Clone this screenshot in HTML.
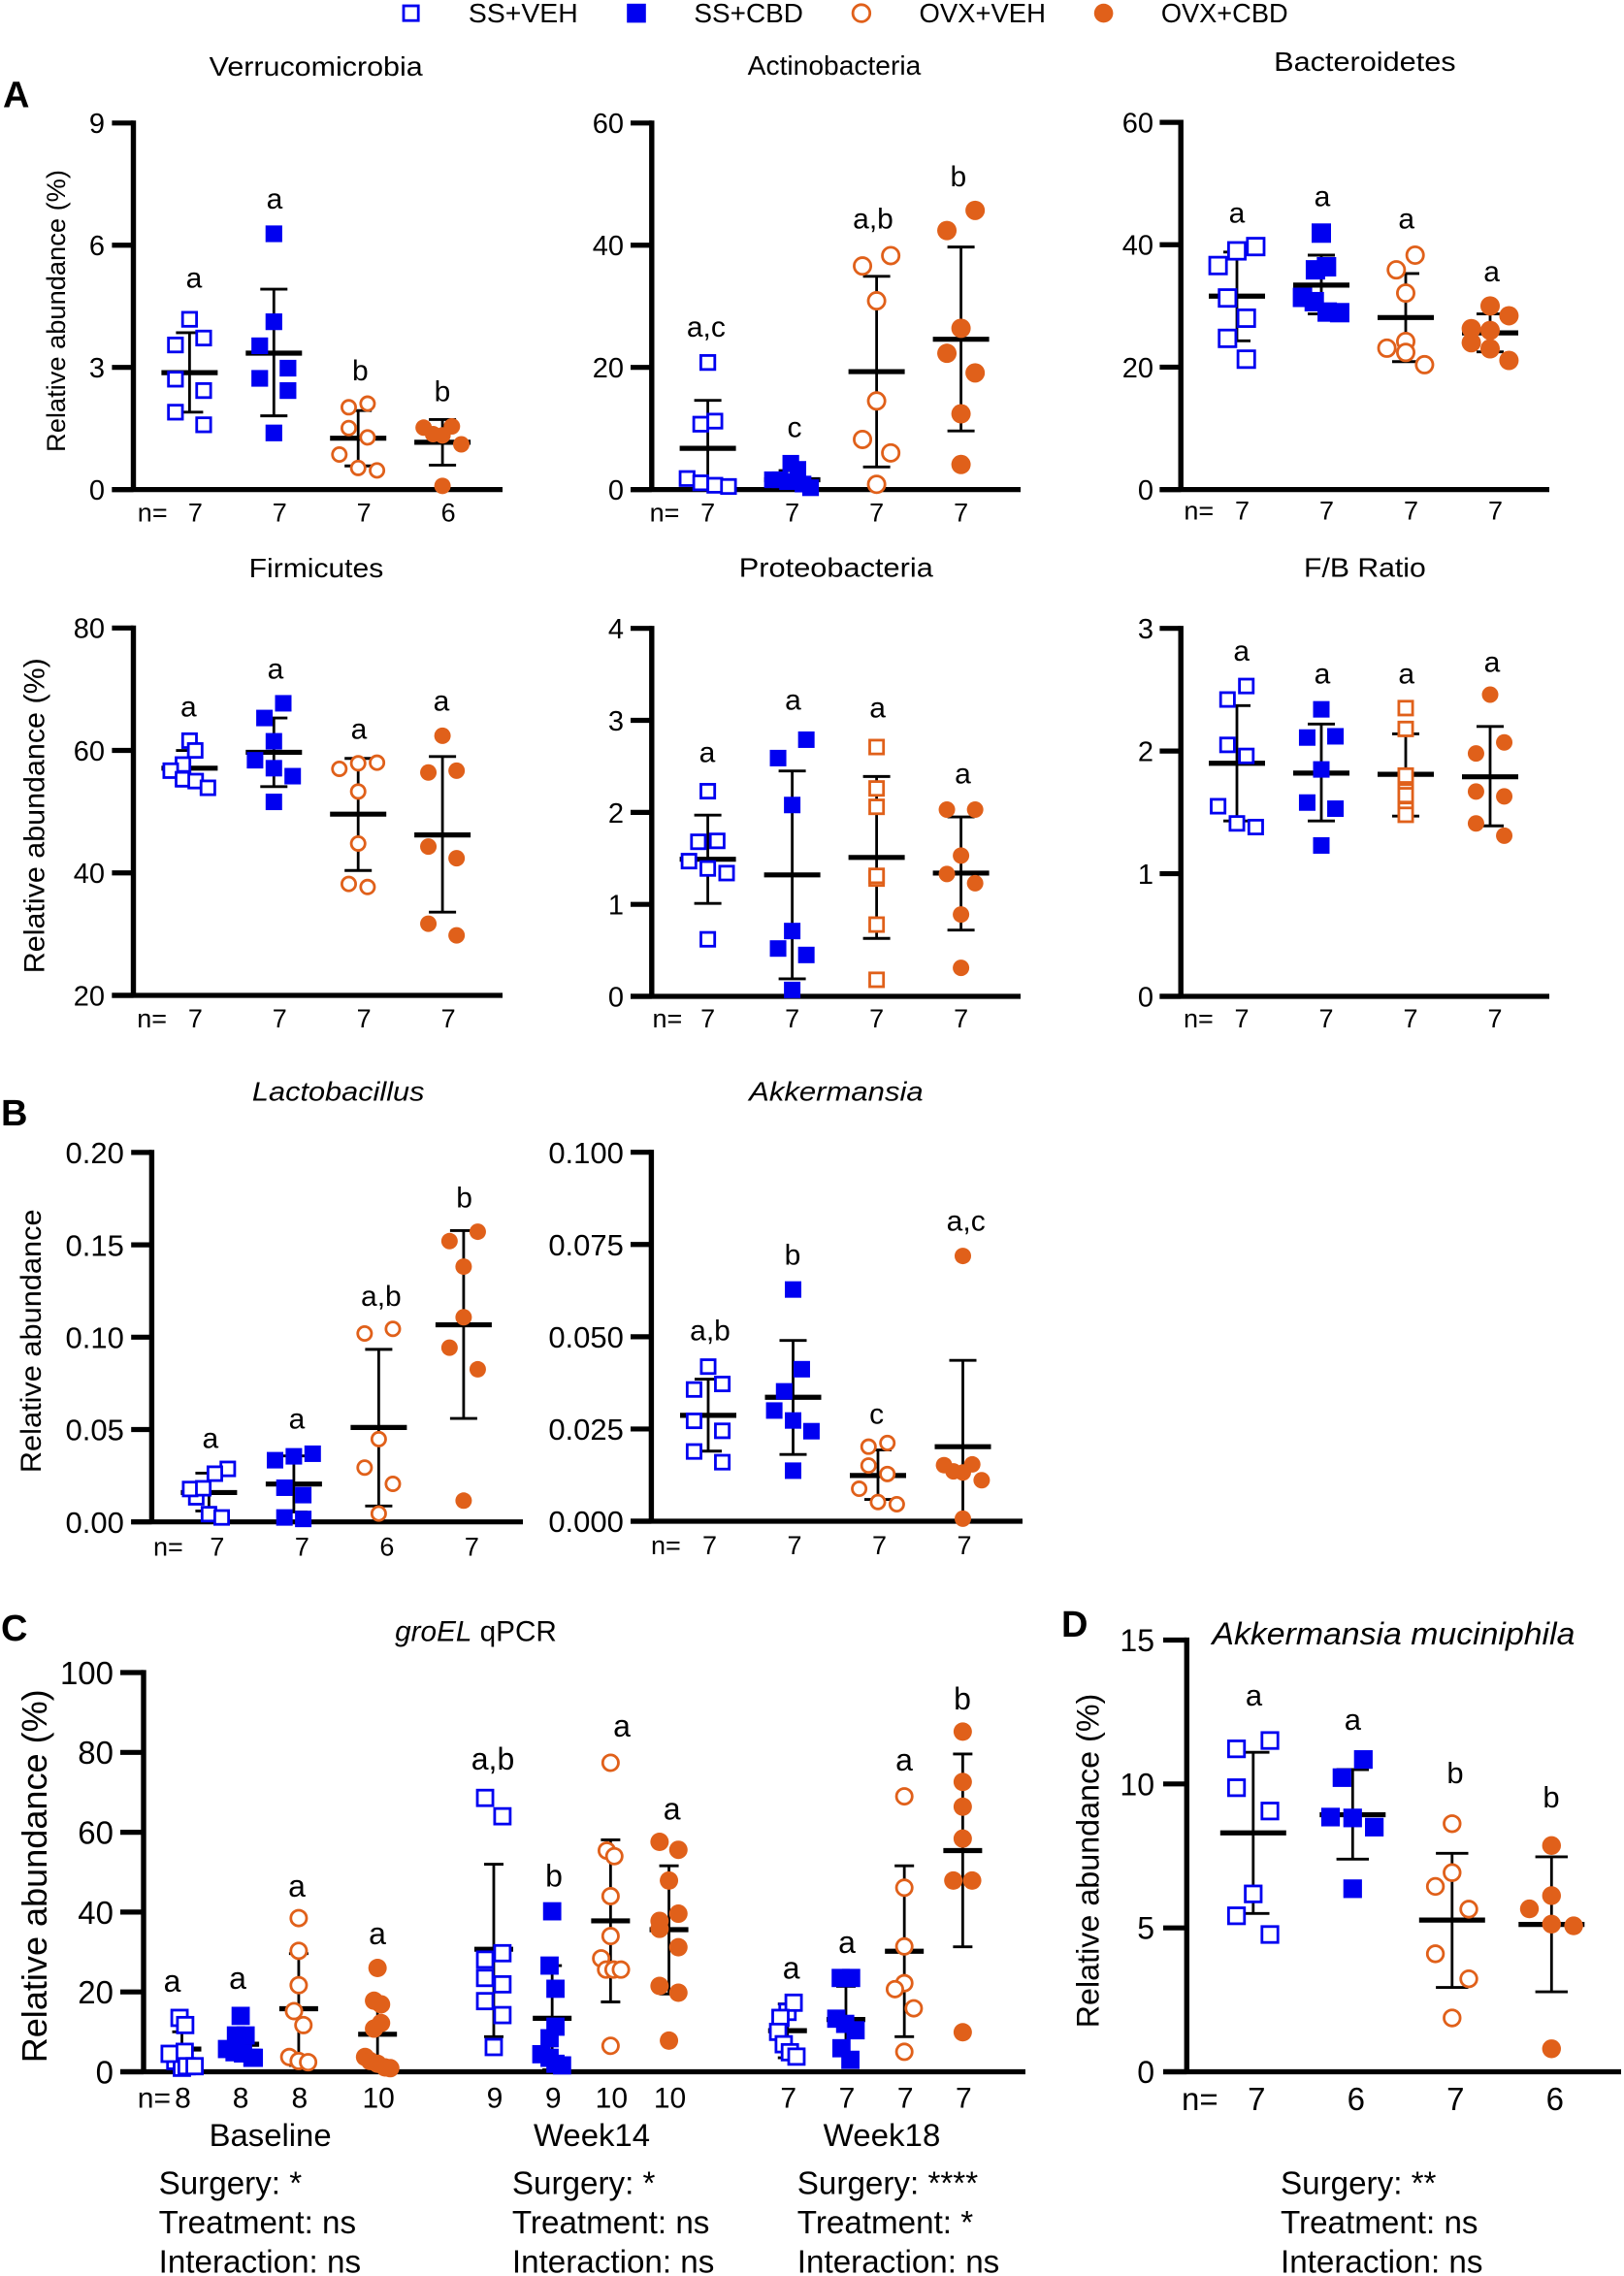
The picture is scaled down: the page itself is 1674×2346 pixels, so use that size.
<!DOCTYPE html>
<html lang="en">
<head>
<meta charset="utf-8">
<title>Relative abundance of gut microbiota</title>
<style>
  html, body { margin: 0; padding: 0; background: #fff; }
  svg { display: block; font-family: "Liberation Sans", Arial, sans-serif; fill: #000; }
  .l29 { font-size: 30px; text-anchor: middle; }
  .l31 { font-size: 32px; text-anchor: middle; }
  .l30 { font-size: 31px; text-anchor: middle; }
  .panel-letter { font-size: 38px; font-weight: bold; }
  .stat { font-size: 33.2px; }
  .legend { font-size: 28px; }
  .blabel { font-size: 32px; text-anchor: middle; }
</style>
</head>
<body>
<svg id="figure" xmlns="http://www.w3.org/2000/svg" width="1674" height="2346" viewBox="0 0 1674 2346">
  <rect x="0" y="0" width="1674" height="2346" fill="#fff"></rect>

  <g>
    <rect x="416" y="6" width="15.2" height="15.2" fill="#fff" stroke="#0000f0" stroke-width="2.8"></rect>
    <text class="legend" x="482.9" y="23.2" textLength="112.8" lengthAdjust="spacingAndGlyphs">SS+VEH</text>
    <rect x="646.2" y="3.8" width="19.6" height="19.6" fill="#0000f0"></rect>
    <text class="legend" x="715.4" y="23.2" textLength="112.5" lengthAdjust="spacingAndGlyphs">SS+CBD</text>
    <circle cx="887.9" cy="13.6" r="8.8" fill="#fff" stroke="#e0601a" stroke-width="2.8"></circle>
    <text class="legend" x="947.5" y="23.2" textLength="130.4" lengthAdjust="spacingAndGlyphs">OVX+VEH</text>
    <circle cx="1137.6" cy="13.6" r="9.8" fill="#e0601a"></circle>
    <text class="legend" x="1196.9" y="23.2" textLength="130.7" lengthAdjust="spacingAndGlyphs">OVX+CBD</text>
  </g>

  <g>
    <text class="panel-letter" x="3" y="110.7">A</text>
    <text class="panel-letter" x="1" y="1160">B</text>
    <text class="panel-letter" x="1" y="1691">C</text>
    <text class="panel-letter" x="1094" y="1687">D</text>
  </g>

  <g font-size="28" text-anchor="middle">
    <text x="325.7" y="77.9" textLength="220" lengthAdjust="spacingAndGlyphs">Verrucomicrobia</text>
    <text x="860" y="76.8" textLength="178.6" lengthAdjust="spacingAndGlyphs">Actinobacteria</text>
    <text x="1406.9" y="73.2" textLength="187.5" lengthAdjust="spacingAndGlyphs">Bacteroidetes</text>
    <text x="326" y="595" textLength="138.6" lengthAdjust="spacingAndGlyphs">Firmicutes</text>
    <text x="861.8" y="594.3" textLength="200" lengthAdjust="spacingAndGlyphs">Proteobacteria</text>
    <text x="1406.9" y="594.3" textLength="125.7" lengthAdjust="spacingAndGlyphs">F/B Ratio</text>
    <text x="348.7" y="1134.3" font-style="italic" textLength="177.5" lengthAdjust="spacingAndGlyphs">Lactobacillus</text>
    <text x="861.9" y="1134.3" font-style="italic" textLength="179.6" lengthAdjust="spacingAndGlyphs">Akkermansia</text>
    <text x="490.5" y="1691.5" font-size="29.7"><tspan font-style="italic">groEL</tspan> qPCR</text>
    <text x="1436.4" y="1695" font-size="32" font-style="italic" textLength="374" lengthAdjust="spacingAndGlyphs">Akkermansia muciniphila</text>
  </g>

  <g text-anchor="middle">
    <text font-size="27" transform="translate(67,320.5) rotate(-90)" textLength="291" lengthAdjust="spacingAndGlyphs">Relative abundance (%)</text>
    <text font-size="30" transform="translate(45.7,840.7) rotate(-90)" textLength="325" lengthAdjust="spacingAndGlyphs">Relative abundance (%)</text>
    <text font-size="30" transform="translate(42,1382.3) rotate(-90)" textLength="271.7" lengthAdjust="spacingAndGlyphs">Relative abundance</text>
    <text font-size="36" transform="translate(48.2,1933.8) rotate(-90)" textLength="385" lengthAdjust="spacingAndGlyphs">Relative abundance (%)</text>
    <text font-size="32" transform="translate(1132.5,1918) rotate(-90)" textLength="344.6" lengthAdjust="spacingAndGlyphs">Relative abundance (%)</text>
  </g>

  <g>
    <text class="l29" x="200" y="296.4">a</text>
    <text class="l29" x="283" y="215">a</text>
    <text class="l29" x="371.4" y="391.8">b</text>
    <text class="l29" x="456" y="413.6">b</text>
    <text class="l29" x="727.9" y="347">a,c</text>
    <text class="l29" x="819" y="450.7">c</text>
    <text class="l29" x="900" y="235.7">a,b</text>
    <text class="l29" x="987.9" y="191.8">b</text>
    <text class="l29" x="1275" y="229.3">a</text>
    <text class="l29" x="1363" y="212.5">a</text>
    <text class="l29" x="1449.7" y="235.7">a</text>
    <text class="l29" x="1537.6" y="290">a</text>
    <text class="l29" x="194.3" y="738.3">a</text>
    <text class="l29" x="284" y="699.3">a</text>
    <text class="l29" x="370" y="761.7">a</text>
    <text class="l29" x="455" y="732.7">a</text>
    <text class="l29" x="729" y="785.7">a</text>
    <text class="l29" x="817.5" y="731.7">a</text>
    <text class="l29" x="904.6" y="739.3">a</text>
    <text class="l29" x="992.5" y="807.7">a</text>
    <text class="l29" x="1279.7" y="681">a</text>
    <text class="l29" x="1363" y="704.7">a</text>
    <text class="l29" x="1449.7" y="704.7">a</text>
    <text class="l29" x="1538" y="692.7">a</text>
    <text class="l29" x="216.8" y="1492.7">a</text>
    <text class="l29" x="306" y="1472.7">a</text>
    <text class="l29" x="392.9" y="1346">a,b</text>
    <text class="l29" x="478.6" y="1244.3">b</text>
    <text class="l29" x="732" y="1381.7">a,b</text>
    <text class="l29" x="817" y="1303.3">b</text>
    <text class="l29" x="903.6" y="1467.7">c</text>
    <text class="l29" x="995.7" y="1268.7">a,c</text>
    <text class="l31" x="177.5" y="2053">a</text>
    <text class="l31" x="245" y="2050">a</text>
    <text class="l31" x="306" y="1955">a</text>
    <text class="l31" x="389" y="2004">a</text>
    <text class="l31" x="508" y="1824">a,b</text>
    <text class="l31" x="571" y="1944.5">b</text>
    <text class="l31" x="641" y="1790">a</text>
    <text class="l31" x="692.6" y="1875.6">a</text>
    <text class="l31" x="815.6" y="2039.5">a</text>
    <text class="l31" x="873" y="2013">a</text>
    <text class="l31" x="932" y="1825">a</text>
    <text class="l31" x="992" y="1762">b</text>
    <text class="l30" x="1292.5" y="1758">a</text>
    <text class="l30" x="1394.4" y="1783">a</text>
    <text class="l30" x="1500" y="1838">b</text>
    <text class="l30" x="1599" y="1863">b</text>
  </g>

  <g>
    <text class="blabel" x="278.6" y="2212" textLength="126" lengthAdjust="spacingAndGlyphs">Baseline</text>
    <text class="blabel" x="610" y="2212" textLength="120" lengthAdjust="spacingAndGlyphs">Week14</text>
    <text class="blabel" x="909" y="2212" textLength="120.7" lengthAdjust="spacingAndGlyphs">Week18</text>
  </g>

  <g>
    <text class="stat" x="163.6" y="2261.5">Surgery: *</text>
    <text class="stat" x="163.6" y="2302">Treatment: ns</text>
    <text class="stat" x="163.6" y="2342.7">Interaction: ns</text>
    <text class="stat" x="527.9" y="2261.5">Surgery: *</text>
    <text class="stat" x="527.9" y="2302">Treatment: ns</text>
    <text class="stat" x="527.9" y="2342.7">Interaction: ns</text>
    <text class="stat" x="821.8" y="2261.5">Surgery: ****</text>
    <text class="stat" x="821.8" y="2302">Treatment: *</text>
    <text class="stat" x="821.8" y="2342.7">Interaction: ns</text>
    <text class="stat" x="1320" y="2261.5">Surgery: **</text>
    <text class="stat" x="1320" y="2302">Treatment: ns</text>
    <text class="stat" x="1320" y="2342.7">Interaction: ns</text>
  </g>

  <g id="charts"></g>
</svg>

<script>
/* ---------- Verrucomicrobia ---------- */
const verrucoTicks = [0, 3, 6, 9];
const verrucoN = [7, 7, 7, 6];
const verrucoValues = [
  [4.18, 3.72, 3.55, 2.71, 2.43, 1.90, 1.59],
  [6.28, 4.12, 3.53, 2.98, 2.73, 2.43, 1.39],
  [2.11, 2.02, 1.51, 1.28, 0.86, 0.53, 0.47],
  [1.52, 1.55, 1.36, 1.33, 1.11, 0.09]
];
const verrucoLanes = [
  [0, 3, -3, -3, 3, -3, 3],
  [0, 0, -3, 3, -3, 3, 0],
  [2, -2, -2, 2, -4, 0, 4],
  [-4, 2, -2, 0, 4, 0]
];
const verrucoMeans = [2.87, 3.35, 1.26, 1.16];
const verrucoUpper = [3.85, 4.92, 1.94, 1.72];
const verrucoLower = [1.90, 1.81, 0.58, 0.60];

/* ---------- Actinobacteria ---------- */
const actinoTicks = [0, 20, 40, 60];
const actinoN = [7, 7, 7, 7];
const actinoValues = [
  [20.8, 11.2, 10.7, 1.8, 1.1, 0.7, 0.5],
  [4.3, 3.3, 1.6, 1.6, 1.3, 0.9, 0.3],
  [38.3, 36.6, 30.9, 14.5, 8.2, 6.0, 0.85],
  [45.7, 42.4, 26.4, 22.3, 19.1, 12.4, 4.1]
];
const actinoLanes = [
  [0, 1.5, -1.5, -4.4, -1.5, 1.5, 4.4],
  [-0.3, 1.2, -4.2, -2.6, -1, 2.3, 3.9],
  [3, -3, 0, 0, -3, 3, 0],
  [3, -3, 0, -3, 3, 0, 0]
];
const actinoMeans = [6.75, 1.6, 19.3, 24.6];
const actinoUpper = [14.6, 3.1, 34.9, 39.7];
const actinoLower = [0, 0, 3.7, 9.6];

/* ---------- Bacteroidetes ---------- */
const bacteroTicks = [0, 20, 40, 60];
const bacteroN = [7, 7, 7, 7];
const bacteroValues = [
  [39.7, 39.0, 36.6, 31.3, 28.0, 24.7, 21.3],
  [41.9, 36.4, 35.9, 31.4, 30.7, 29.0, 28.9],
  [38.3, 35.9, 32.1, 24.2, 23.1, 22.4, 20.4],
  [30.0, 28.4, 26.3, 26.0, 24.0, 23.0, 21.1]
];
const bacteroLanes = [
  [4, 0, -4, -2, 2, -2, 2],
  [0, 1.1, -1.25, -4, -1.5, 1.25, 3.9],
  [2, -2, 0, 0, -4, 0, 4],
  [0, 4, -4, 0, -4, 0, 4]
];
const bacteroMeans = [31.6, 33.4, 28.1, 25.6];
const bacteroUpper = [38.8, 38.3, 35.3, 28.7];
const bacteroLower = [24.3, 28.7, 20.9, 22.5];

/* ---------- Firmicutes ---------- */
const firmiTicks = [20, 40, 60, 80];
const firmiN = [7, 7, 7, 7];
const firmiValues = [
  [61.6, 60.0, 57.7, 56.7, 55.3, 55.0, 53.9],
  [67.7, 65.3, 61.5, 58.4, 57.1, 55.8, 51.6],
  [58.0, 57.9, 57.0, 53.3, 44.8, 38.2, 37.7],
  [62.4, 56.7, 56.4, 44.3, 42.4, 31.7, 29.8]
];
const firmiLanes = [
  [0, 1.2, -1.4, -4, -1.4, 1.3, 3.9],
  [2, -2, 0, -4, 0, 4, 0],
  [4, 0, -4, 0, 0, -2, 2],
  [0, 3, -3, -3, 3, -3, 3]
];
const firmiMeans = [57.1, 59.7, 49.6, 46.2];
const firmiUpper = [60.0, 65.3, 58.7, 59.0];
const firmiLower = [54.2, 54.1, 40.4, 33.6];

/* ---------- Proteobacteria ---------- */
const proteoTicks = [0, 1, 2, 3, 4];
const proteoN = [7, 7, 7, 7];
const proteoValues = [
  [2.23, 1.69, 1.68, 1.47, 1.39, 1.34, 0.62],
  [2.79, 2.59, 2.08, 0.71, 0.52, 0.45, 0.07],
  [2.71, 2.26, 2.06, 1.28, 1.31, 0.78, 0.18],
  [2.03, 2.03, 1.53, 1.33, 1.23, 0.89, 0.31]
];
const proteoLanes = [
  [0, 2, -2, -4, 0, 4, 0],
  [3, -3, 0, 0, -3, 3, 0],
  [0, 0, 0, 0, 0, 0, 0],
  [-3, 3, 0, -3, 3, 0, 0]
];
const proteoMeans = [1.49, 1.32, 1.51, 1.34];
const proteoUpper = [1.97, 2.45, 2.39, 1.95];
const proteoLower = [1.01, 0.19, 0.63, 0.72];

/* ---------- F/B Ratio ---------- */
const ratioTicks = [0, 1, 2, 3];
const ratioN = [7, 7, 7, 7];
const ratioValues = [
  [2.53, 2.42, 2.05, 1.96, 1.55, 1.41, 1.38],
  [2.34, 2.12, 2.11, 1.85, 1.58, 1.53, 1.23],
  [2.35, 2.18, 1.80, 1.67, 1.64, 1.52, 1.48],
  [2.46, 2.07, 1.98, 1.67, 1.63, 1.41, 1.31]
];
const ratioLanes = [
  [2, -2, -2, 2, -4, 0, 4],
  [0, 3, -3, 0, -3, 3, 0],
  [0, 0, 0, 0, 0, 0, 0],
  [0, 3, -3, -3, 3, -3, 3]
];
const ratioMeans = [1.90, 1.82, 1.81, 1.79];
const ratioUpper = [2.37, 2.22, 2.14, 2.20];
const ratioLower = [1.43, 1.43, 1.47, 1.39];

/* ---------- Lactobacillus ---------- */
const lactoTicks = [0, 0.05, 0.10, 0.15, 0.20];
const lactoTickLabels = ['0.00', '0.05', '0.10', '0.15', '0.20'];
const lactoN = [7, 7, 6, 7];
const lactoValues = [
  [0.0287, 0.0261, 0.0133, 0.0178, 0.0182, 0.0042, 0.0024],
  [0.0369, 0.0355, 0.0334, 0.0185, 0.0145, 0.0024, 0.0016],
  [0.1045, 0.1020, 0.0448, 0.0294, 0.0206, 0.0045],
  [0.1571, 0.1520, 0.1382, 0.1108, 0.0943, 0.0826, 0.0115]
];
const lactoLanes = [
  [4, 1.25, -2.7, -4, -1.2, 0, 2.7],
  [4, 0, -4, -2, 2, -2, 2],
  [3, -3, 0, -3, 3, 0],
  [3, -3, 0, 0, -3, 3, 0]
];
const lactoMeans = [0.0159, 0.0205, 0.0511, 0.1067];
const lactoUpper = [0.0264, 0.0357, 0.0934, 0.1577];
const lactoLower = [0.0059, 0.0054, 0.0086, 0.0560];

/* ---------- Akkermansia ---------- */
const akkerTicks = [0, 0.025, 0.05, 0.075, 0.1];
const akkerTickLabels = ['0.000', '0.025', '0.050', '0.075', '0.100'];
const akkerN = [7, 7, 7, 7];
const akkerValues = [
  [0.0419, 0.0372, 0.0357, 0.0272, 0.0245, 0.0189, 0.0160],
  [0.0628, 0.0412, 0.0352, 0.0300, 0.0273, 0.0244, 0.0137],
  [0.0212, 0.0202, 0.0151, 0.0128, 0.0088, 0.0052, 0.0046],
  [0.0719, 0.0152, 0.0154, 0.0135, 0.0132, 0.0111, 0.0007]
];
const akkerLanes = [
  [0, 3, -3, -3, 3, -3, 3],
  [0, 1.85, -1.9, -4, 0, 3.9, 0],
  [2, -2, -2, 2, -4, 0, 4],
  [0, -4, 2, -2, 0, 4, 0]
];
const akkerMeans = [0.0287, 0.0336, 0.0124, 0.0202];
const akkerUpper = [0.0385, 0.0490, 0.0193, 0.0436];
const akkerLower = [0.0190, 0.0181, 0.0059, 0];

/* ---------- groEL qPCR ---------- */
const groelTicks = [0, 20, 40, 60, 80, 100];
const groelN = [8, 8, 8, 10, 9, 9, 10, 10, 7, 7, 7, 7];
const groelValues = [
  [2.7, 1.0, 4.5, 13.5, 11.7, 5.0, 1.4, 1.4],
  [14.0, 9.1, 9.1, 5.7, 4.9, 4.6, 3.5, 3.5],
  [38.5, 30.3, 21.7, 15.2, 11.7, 3.7, 2.7, 2.4],
  [26.0, 17.8, 16.9, 12.2, 10.8, 3.7, 2.7, 2.0, 1.1, 0.9],
  [68.6, 64.0, 29.7, 28.1, 23.5, 21.9, 17.7, 14.2, 6.2],
  [40.2, 26.6, 20.8, 11.3, 8.4, 4.4, 3.5, 2.0, 1.6],
  [77.4, 55.4, 54.0, 44.0, 34.0, 28.4, 25.6, 25.6, 25.6, 6.5],
  [57.6, 55.6, 47.9, 39.6, 37.8, 35.8, 31.2, 21.5, 19.8, 7.8],
  [15.0, 17.3, 13.5, 10.0, 6.9, 4.9, 3.8],
  [23.5, 23.5, 13.3, 12.0, 10.4, 5.9, 3.0],
  [69.0, 46.1, 31.4, 22.2, 20.7, 15.9, 5.0],
  [85.2, 72.6, 66.4, 58.4, 47.9, 47.9, 9.9]
];
const groelLanes = [
  [-1.4, 0, -2.6, -0.5, 0.7, 0.6, 1, 2.7],
  [0.2, -0.8, 1.25, -2.7, -1.1, 0.7, 3, 2.7],
  [0, 0, 0, -1, 1, -2, 0, 2],
  [0, -0.74, 0.74, 0.74, -0.74, -2.65, -1.6, 0, 1.6, 2.7],
  [-1.84, 1.84, 1.84, -1.84, -1.84, 1.84, -1.84, 1.84, 0],
  [0, -0.55, 0.7, 0.7, -0.55, -2.3, -0.55, 0.7, 2.1],
  [0, -0.8, 0.8, 0, 0, -2, -0.95, 0.63, 2.2, 0],
  [-2, 2, 0, 2, -2, -2, 2, -2, 2, 0],
  [0, 1.3, -1.5, -2, -0.8, 0.5, 1.9],
  [-1.1, 1.1, -2.05, -0.16, 2.05, -0.95, 0.95],
  [0, 0, 0, 0, -2, 2, 0],
  [0, 0, 0, 0, -2, 2, 0]
];
const groelMeans = [5.7, 6.9, 15.8, 9.4, 30.7, 13.4, 37.8, 35.6, 10.3, 13.1, 30.2, 55.4];
const groelUpper = [10.0, 9.9, 29.6, 18.0, 52.0, 26.6, 58.1, 51.6, 17.0, 21.4, 51.6, 79.6];
const groelLower = [1.0, 3.9, 1.6, 0.5, 8.8, 0.5, 17.5, 19.5, 3.5, 4.4, 8.8, 31.3];

/* ---------- Akkermansia muciniphila ---------- */
const mucinTicks = [0, 5, 10, 15];
const mucinN = [7, 6, 7, 6];
const mucinValues = [
  [11.51, 11.22, 9.87, 9.06, 6.18, 5.42, 4.77],
  [10.85, 10.22, 8.85, 8.82, 8.50, 6.36],
  [8.62, 6.92, 6.44, 5.65, 4.10, 3.23, 1.87],
  [7.86, 6.12, 5.66, 5.13, 5.07, 0.80]
];
const mucinLanes = [
  [3.55, -3.55, -3.55, 3.55, 0, -3.55, 3.55],
  [2.27, -2.27, -4.7, 0, 4.6, 0],
  [0, 0, -3.55, 3.55, -3.55, 3.55, 0],
  [0, 0, -4.7, 0, 4.7, 0]
];
const mucinMeans = [8.30, 8.93, 5.27, 5.12];
const mucinUpper = [11.10, 10.50, 7.59, 7.47];
const mucinLower = [5.50, 7.39, 2.93, 2.78];

/* ---------- drawing ---------- */
const SVG_NS = 'http://www.w3.org/2000/svg';
const BLUE = '#0000f0';
const ORANGE = '#e0601a';
const LANE_PX = 4.85;
const STANDARD_MARKS = ['openSquare', 'fillSquare', 'openCircle', 'fillCircle'];
const SQUARE_OPEN_ORANGE = ['openSquare', 'fillSquare', 'orangeSquare', 'fillCircle'];
const GROEL_MARKS = STANDARD_MARKS.concat(STANDARD_MARKS, STANDARD_MARKS);
const chartsRoot = document.getElementById('charts');

function make(tag, parent, attrs) {
  const el = document.createElementNS(SVG_NS, tag);
  for (const key in attrs) el.setAttribute(key, attrs[key]);
  parent.appendChild(el);
  return el;
}

function drawMarker(parent, kind, cx, cy, sq, circ) {
  const sw = 2.8;
  let el;
  if (kind === 'openSquare' || kind === 'orangeSquare') {
    const s = sq - sw;
    el = make('rect', parent, { x: cx - s / 2, y: cy - s / 2, width: s, height: s, fill: '#fff',
      stroke: kind === 'openSquare' ? BLUE : ORANGE, 'stroke-width': sw });
  } else if (kind === 'fillSquare') {
    el = make('rect', parent, { x: cx - sq / 2, y: cy - sq / 2, width: sq, height: sq, fill: BLUE });
  } else if (kind === 'openCircle') {
    el = make('circle', parent, { cx: cx, cy: cy, r: (circ - sw) / 2, fill: '#fff', stroke: ORANGE, 'stroke-width': sw });
  } else {
    el = make('circle', parent, { cx: cx, cy: cy, r: circ / 2, fill: ORANGE });
  }
  return el;
}

function drawPanel(cfg, ticks, tickLabels, counts, values, lanes, means, upper, lower) {
  const yScale = v => cfg.y0 + (v - ticks[0]) / (ticks[ticks.length - 1] - ticks[0]) * (cfg.yTop - cfg.y0);
  const xScale = i => cfg.x0 + cfg.step * (cfg.units ? cfg.units[i] : i);

  const g = make('g', chartsRoot, {});
  
  

  const yAxis = make('line', g, { x1: cfg.axisX, x2: cfg.axisX, y1: cfg.yTop - 2.6, y2: cfg.y0, stroke: '#000', 'stroke-width': 5.4 });
  
  

  const xAxis = make('line', g, { x1: cfg.tickLeft, x2: cfg.right, y1: cfg.y0, y2: cfg.y0, stroke: '#000', 'stroke-width': 5.2 });
  
  

  ticks.forEach((t, i) => {
    const ty = yScale(t);
    const tick = make('line', g, { x1: cfg.tickLeft, x2: cfg.axisX, y1: ty, y2: ty, stroke: '#000', 'stroke-width': 5.2 });
    
    
    const label = make('text', g, { x: cfg.tickEnd, y: ty + cfg.tickFont * 0.36, 'text-anchor': 'end', 'font-size': cfg.tickFont });
    label.textContent = tickLabels ? tickLabels[i] : String(t);
    
    
  });

  const nPrefix = make('text', g, { x: cfg.nStart, y: cfg.nBase, 'font-size': cfg.nFont });
  nPrefix.textContent = 'n=';
  
  

  values.forEach((groupValues, gi) => {
    const cx = xScale(gi);
    const group = make('g', g, {});
    
    

    const whisker = make('line', group, { x1: cx, x2: cx, y1: yScale(upper[gi]), y2: yScale(lower[gi]), stroke: '#000', 'stroke-width': 2.8 });
    
    

    [upper[gi], lower[gi]].forEach(v => {
      const cap = make('line', group, { x1: cx - cfg.capHalf, x2: cx + cfg.capHalf, y1: yScale(v), y2: yScale(v), stroke: '#000', 'stroke-width': 2.9 });
      
      
    });

    const meanLine = make('line', group, { x1: cx - cfg.meanHalf, x2: cx + cfg.meanHalf, y1: yScale(means[gi]), y2: yScale(means[gi]), stroke: '#000', 'stroke-width': 5.2 });
    
    

    groupValues.forEach((v, pi) => {
      const marker = drawMarker(group, cfg.marks[gi], cx + lanes[gi][pi] * LANE_PX, yScale(v), cfg.sq, cfg.circ);
      
      
    });

    const nLabel = make('text', g, { x: cx + cfg.nDx, y: cfg.nBase, 'text-anchor': 'middle', 'font-size': cfg.nFont });
    nLabel.textContent = String(counts[gi]);
    
    
  });
}

const panelA = { capHalf: 14, meanHalf: 29, tickFont: 29, nFont: 27, step: 87 };

drawPanel(Object.assign({}, panelA, { id: 'verrucomicrobia', axisX: 137.5, tickLeft: 115.4, right: 518, yTop: 126.8, y0: 504.6, x0: 195.4, step: 86.9, tickEnd: 108, nStart: 141.8, nBase: 537.5, nDx: 6, sq: 17.2, circ: 17, marks: STANDARD_MARKS }),
  verrucoTicks, null, verrucoN, verrucoValues, verrucoLanes, verrucoMeans, verrucoUpper, verrucoLower);

drawPanel(Object.assign({}, panelA, { id: 'actinobacteria', axisX: 671.8, tickLeft: 650, right: 1052, yTop: 126.8, y0: 504.6, x0: 729.6, tickEnd: 643, nStart: 669.6, nBase: 537.5, nDx: 0, sq: 17.2, circ: 20, marks: STANDARD_MARKS }),
  actinoTicks, null, actinoN, actinoValues, actinoLanes, actinoMeans, actinoUpper, actinoLower);

drawPanel(Object.assign({}, panelA, { id: 'bacteroidetes', axisX: 1217.2, tickLeft: 1195.4, right: 1597, yTop: 126.1, y0: 504.6, x0: 1275, tickEnd: 1189, nStart: 1220.4, nBase: 535.7, nDx: 5.5, sq: 20, circ: 20, marks: STANDARD_MARKS }),
  bacteroTicks, null, bacteroN, bacteroValues, bacteroLanes, bacteroMeans, bacteroUpper, bacteroLower);

drawPanel(Object.assign({}, panelA, { id: 'firmicutes', axisX: 137.5, tickLeft: 115.4, right: 518, yTop: 647.3, y0: 1026, x0: 195.4, step: 86.9, tickEnd: 108, nStart: 141.2, nBase: 1059, nDx: 6, sq: 17, circ: 17, marks: STANDARD_MARKS }),
  firmiTicks, null, firmiN, firmiValues, firmiLanes, firmiMeans, firmiUpper, firmiLower);

drawPanel(Object.assign({}, panelA, { id: 'proteobacteria', axisX: 671.8, tickLeft: 650, right: 1052, yTop: 647.7, y0: 1027, x0: 729.6, tickEnd: 643, nStart: 672.5, nBase: 1059, nDx: 0, sq: 17, circ: 17, marks: SQUARE_OPEN_ORANGE }),
  proteoTicks, null, proteoN, proteoValues, proteoLanes, proteoMeans, proteoUpper, proteoLower);

drawPanel(Object.assign({}, panelA, { id: 'fb-ratio', axisX: 1217.2, tickLeft: 1195.4, right: 1597, yTop: 647.7, y0: 1027, x0: 1275, tickEnd: 1189, nStart: 1220, nBase: 1059, nDx: 5, sq: 17, circ: 17, marks: SQUARE_OPEN_ORANGE }),
  ratioTicks, null, ratioN, ratioValues, ratioLanes, ratioMeans, ratioUpper, ratioLower);

drawPanel(Object.assign({}, panelA, { id: 'lactobacillus', tickFont: 31, axisX: 156.4, tickLeft: 135.2, right: 539, yTop: 1187.9, y0: 1568.7, x0: 215.4, step: 87.5, tickEnd: 127.9, nStart: 158, nBase: 1603.3, nDx: 8.5, sq: 17, circ: 17, marks: STANDARD_MARKS }),
  lactoTicks, lactoTickLabels, lactoN, lactoValues, lactoLanes, lactoMeans, lactoUpper, lactoLower);

drawPanel(Object.assign({}, panelA, { id: 'akkermansia', tickFont: 31, axisX: 671.4, tickLeft: 650, right: 1054, yTop: 1187.7, y0: 1568, x0: 730, step: 87.5, tickEnd: 642.9, nStart: 671, nBase: 1602, nDx: 1.5, sq: 17, circ: 17, marks: STANDARD_MARKS }),
  akkerTicks, akkerTickLabels, akkerN, akkerValues, akkerLanes, akkerMeans, akkerUpper, akkerLower);

drawPanel({ id: 'groel-qpcr', capHalf: 10, meanHalf: 20, tickFont: 33, nFont: 30, axisX: 148, tickLeft: 124, right: 1057, yTop: 1724, y0: 2135.5, x0: 187.5, step: 60.2, units: [0, 0.99, 2, 3.35, 5.34, 6.34, 7.34, 8.34, 10.37, 11.37, 12.37, 13.37], tickEnd: 117, nStart: 141.8, nBase: 2172.5, nDx: 1, sq: 18.8, circ: 19, marks: GROEL_MARKS },
  groelTicks, null, groelN, groelValues, groelLanes, groelMeans, groelUpper, groelLower);

drawPanel({ id: 'akkermansia-muciniphila', capHalf: 16.7, meanHalf: 34, tickFont: 32, nFont: 33, axisX: 1223.3, tickLeft: 1199, right: 1671, yTop: 1690.5, y0: 2135.5, x0: 1291.8, step: 102.5, tickEnd: 1190, nStart: 1218, nBase: 2175, nDx: 3.5, sq: 19.2, circ: 19.4, marks: STANDARD_MARKS },
  mucinTicks, null, mucinN, mucinValues, mucinLanes, mucinMeans, mucinUpper, mucinLower);
</script>
</body>
</html>
